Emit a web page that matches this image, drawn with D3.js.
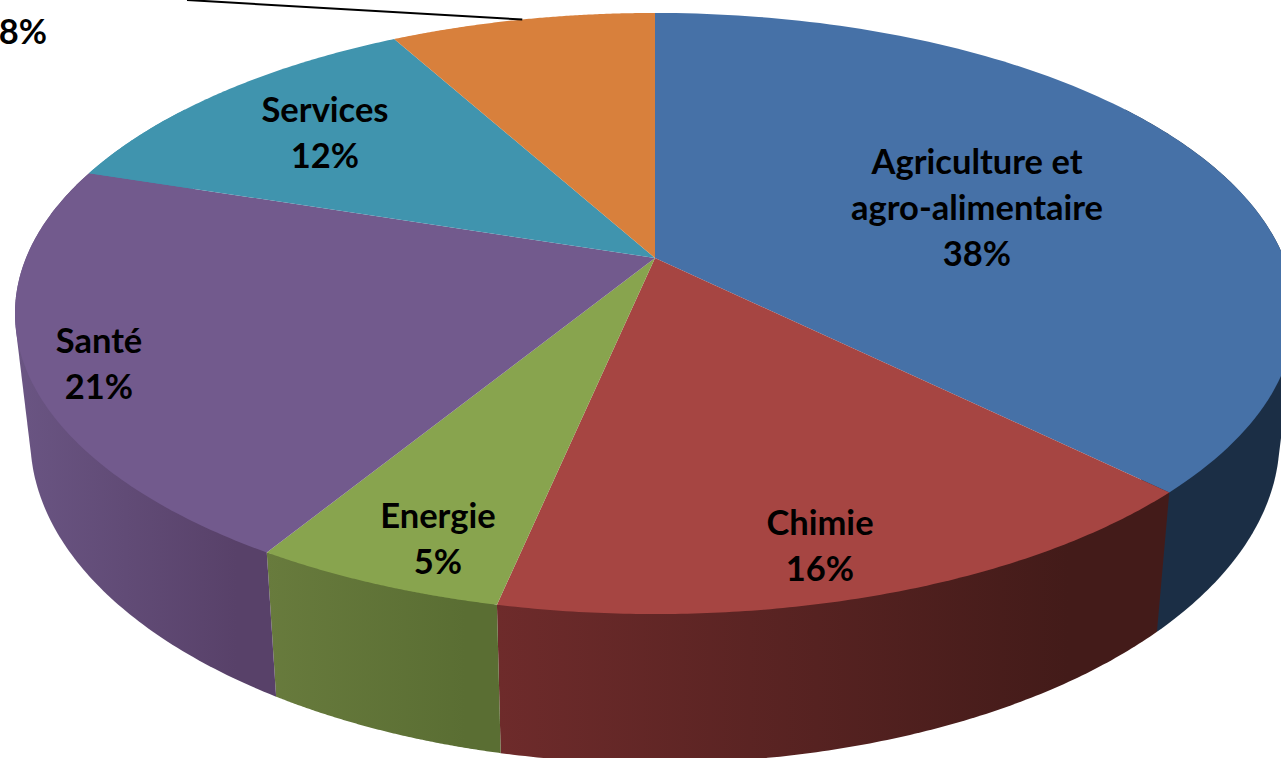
<!DOCTYPE html>
<html>
<head>
<meta charset="UTF-8">
<title>Secteurs</title>
<script src="https://d3js.org/d3.v7.min.js"></script>
<style>
body { margin: 0; background: #fff; overflow: hidden; }
text { font-family: Lato, "Open Sans", sans-serif; font-weight: 700; font-size: 34.5px; fill: #000; text-anchor: middle; }
</style>
</head>
<body>
<div id="chart"></div>
<script>
var categories = ['Agriculture et|agro-alimentaire', 'Chimie', 'Energie', 'Santé', 'Services', ''];
var values = [37.4, 15.9, 5.4, 21.3, 12.0, 8.0];
var percents = ['38%', '16%', '5%', '21%', '12%', '8%'];
var topColors = ['#4671a7', '#a64542', '#88a44e', '#725a8d', '#4094ae', '#d8803c'];
var sideLeft = ['#1b2e45', '#6e2b2b', '#687b3d', '#6a5583', '#4094ae', '#d8803c'];
var sideRight = ['#1b2e45', '#431b19', '#5a6e33', '#584169', '#4094ae', '#d8803c'];
var labelX = [977, 820, 438, 99, 325, 23];
var labelY = [174, 535, 528, 353, 122, 44];

var width = 1281, height = 758;
var cx = 655, cy = 258, rx = 629, ry = 290.3, k = 0.1847;

// homography of the pie disc, z = 0 top face, z = 1 bottom face
function project(a, z, r) {
    r = r === undefined ? 1 : r;
    var u = r * Math.sin(a), v = r * Math.cos(a);
    var w = 1 + k * v;
    var x = cx + rx * u / w, y = cy - ry * v / w;
    return [cx + (x - cx) * (1 - 0.024 * z), y + z * (100 + 0.08 * y)];
}

var svg = d3.select('#chart').append('svg')
    .attr('width', width).attr('height', height);
var defs = svg.append('defs');
var line = d3.line();
var arcs = d3.pie().sort(null)(values);

function steps(a0, a1) {
    return d3.range(0, 121).map(function(i) { return a0 + (a1 - a0) * i / 120; });
}

// side walls, the hull gives the straight silhouette down from the widest point of the top face
arcs.forEach(function(d, i) {
    var a0 = Math.max(d.startAngle, Math.PI / 2 - 0.6);
    var a1 = Math.min(d.endAngle, 3 * Math.PI / 2 + 0.6);
    if (a0 >= a1) return;
    var top = steps(a0, a1).map(function(a) { return project(a, 0); });
    var bottom = steps(a1, a0).map(function(a) { return project(a, 1); });
    var xs = top.concat(bottom).map(function(p) { return p[0]; });
    var grad = defs.append('linearGradient').attr('id', 'side' + i)
        .attr('gradientUnits', 'userSpaceOnUse')
        .attr('x1', d3.min(xs)).attr('x2', d3.max(xs)).attr('y1', 0).attr('y2', 0);
    grad.append('stop').attr('offset', 0).attr('stop-color', sideLeft[i]);
    grad.append('stop').attr('offset', 0.85).attr('stop-color', sideRight[i]);
    svg.append('path')
        .attr('d', line(d3.polygonHull(top.concat(bottom))) + 'Z')
        .attr('fill', 'url(#side' + i + ')');
});

// top face
arcs.forEach(function(d, i) {
    var pts = [project(0, 0, 0)].concat(steps(d.startAngle, d.endAngle).map(function(a) { return project(a, 0); }));
    svg.append('path')
        .attr('d', line(pts) + 'Z')
        .attr('fill', topColors[i]);
});

// leader of the last label, its name falls outside the picture
var leaderAngle = arcs[5].startAngle + (arcs[5].endAngle - arcs[5].startAngle) * 0.5;
var lp = project(leaderAngle, 0);
svg.append('line')
    .attr('x1', 187).attr('y1', 0)
    .attr('x2', lp[0]).attr('y2', lp[1])
    .attr('stroke', '#000').attr('stroke-width', 2);

arcs.forEach(function(d, i) {
    var rows = categories[i] ? categories[i].split('|') : [];
    rows.push(percents[i]);
    var t = svg.append('text').attr('x', labelX[i]).attr('y', labelY[i]);
    rows.forEach(function(row, j) {
        t.append('tspan').attr('x', labelX[i]).attr('dy', j ? 46 : 0).text(row);
    });
});
</script>
</body>
</html>
